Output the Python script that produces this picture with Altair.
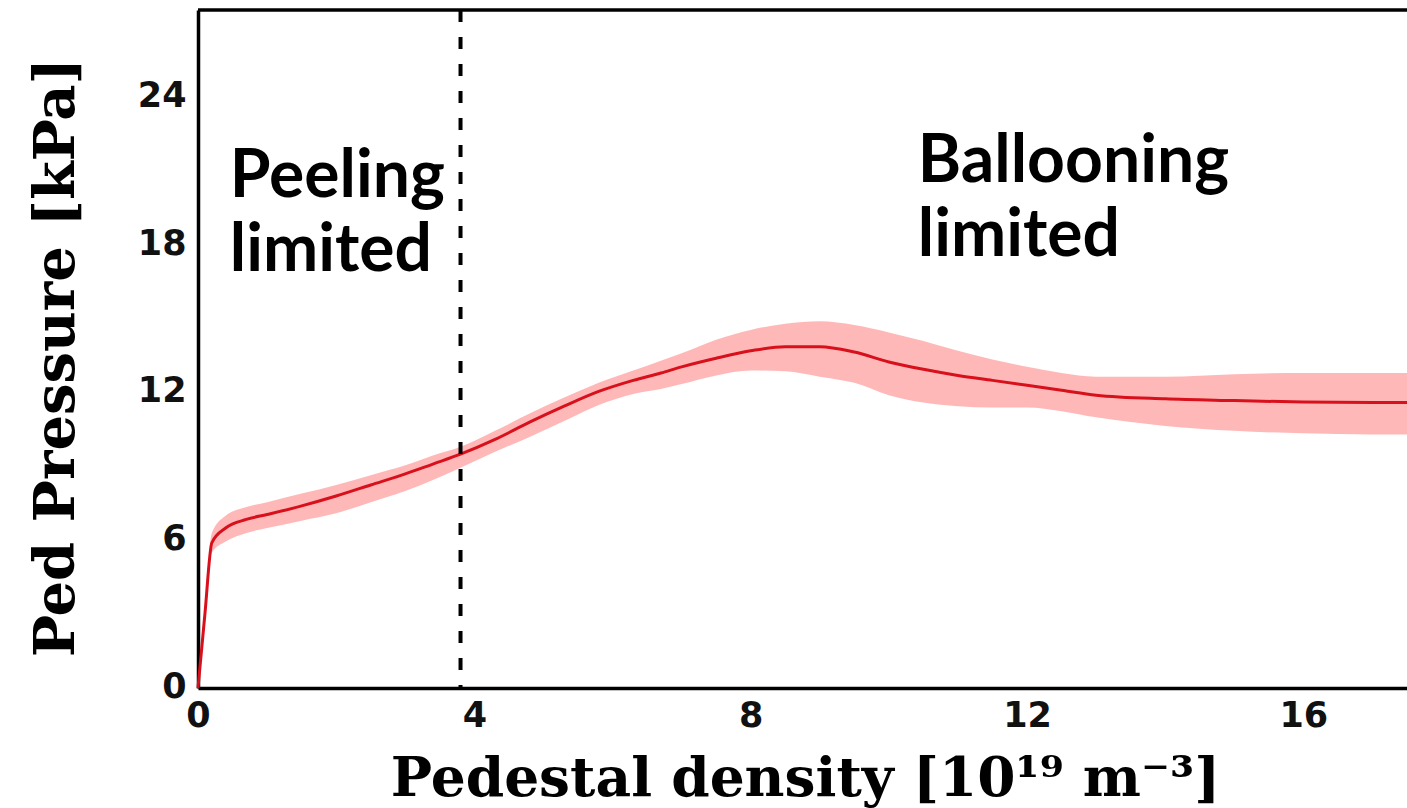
import altair as alt
import pandas as pd

# --- data ---
density = [0.0, 0.1, 0.2, 0.4, 0.7, 1.0, 1.5, 2.0, 2.5, 3.0, 3.4, 3.8, 4.3, 4.8, 5.3, 5.8,
           6.3, 6.7, 7.0, 7.5, 8.0, 8.5, 9.0, 9.5, 10.0, 10.5, 11.0, 11.5, 12.0, 12.5,
           13.0, 14.0, 15.0, 16.0, 17.0, 17.5]
pressure = [0.0, 3.0, 5.9, 6.5, 6.85, 7.05, 7.4, 7.8, 8.25, 8.7, 9.1, 9.5, 10.1, 10.8, 11.45,
            12.05, 12.5, 12.8, 13.05, 13.4, 13.7, 13.87, 13.87, 13.65, 13.25, 12.95, 12.7,
            12.5, 12.3, 12.1, 11.9, 11.75, 11.68, 11.62, 11.6, 11.6]
upper = [0.0, 3.2, 6.3, 7.0, 7.35, 7.55, 7.9, 8.25, 8.65, 9.05, 9.45, 9.8, 10.45, 11.15, 11.8,
         12.4, 12.9, 13.3, 13.6, 14.15, 14.55, 14.8, 14.9, 14.75, 14.45, 14.1, 13.7, 13.35,
         13.05, 12.8, 12.65, 12.65, 12.75, 12.8, 12.8, 12.8]
lower = [0.0, 2.8, 5.5, 5.95, 6.3, 6.5, 6.8, 7.1, 7.55, 8.0, 8.45, 8.95, 9.6, 10.2, 10.85,
         11.5, 11.95, 12.15, 12.35, 12.7, 12.9, 12.87, 12.65, 12.4, 11.9, 11.6, 11.45, 11.4,
         11.4, 11.25, 11.0, 10.65, 10.45, 10.35, 10.3, 10.3]

x_ticks = [0, 4, 8, 12, 16]
y_ticks = [0, 6, 12, 18, 24]
x_max = 17.5
y_max = 27.55
boundary_density = 3.8

label_text = ["Peeling\nlimited", "Ballooning\nlimited"]
label_x = [0.46, 10.42]
label_y = [19.96, 20.57]

df = pd.DataFrame({"x": density, "y": pressure, "lo": lower, "hi": upper})
df_lab = pd.DataFrame({"x": label_x, "y": label_y, "t": label_text})

W, H = 1209, 678

xscale = alt.Scale(domain=[0, x_max], nice=False, zero=False)
yscale = alt.Scale(domain=[0, y_max], nice=False, zero=False)

xaxis = alt.Axis(
    values=x_ticks, format="d", title="Pedestal density [10¹⁹ m⁻³]", grid=False, ticks=False,
    domainColor="black", domainWidth=3.5,
    labelFont="DejaVu Sans", labelFontWeight="bold", labelFontSize=35, labelColor="#111111",
    labelPadding=10, labelFlush=False,
    titleFont="DejaVu Serif", titleFontWeight="bold", titleFontSize=55, titleColor="black",
    titleX=607, titleY=107, titleBaseline="alphabetic", titleAlign="center",
)
yaxis = alt.Axis(
    values=y_ticks, format="d", title="Ped Pressure [kPa]", grid=False, ticks=False,
    domainColor="black", domainWidth=3.5,
    labelFont="DejaVu Sans", labelFontWeight="bold", labelFontSize=35, labelColor="#111111",
    labelPadding=12, labelOffset=-2, labelFlush=False,
    titleFont="DejaVu Serif", titleFontWeight="bold", titleFontSize=56, titleColor="black",
    titleX=-142, titleY=347, titleAngle=270, titleBaseline="middle", titleAlign="center",
)

base = alt.Chart(df)

band = base.mark_area(color="#ffb8b8", opacity=1, interpolate="monotone").encode(
    x=alt.X("x:Q", scale=xscale, axis=xaxis),
    y=alt.Y("lo:Q", scale=yscale, axis=yaxis),
    y2="hi:Q",
)
line = base.mark_line(color="#d8101c", strokeWidth=3, interpolate="monotone").encode(
    x=alt.X("x:Q", scale=xscale),
    y=alt.Y("y:Q", scale=yscale),
)
dash = alt.Chart(pd.DataFrame({"b": [boundary_density]})).mark_rule(
    color="black", strokeWidth=4, strokeDash=[12, 15]
).encode(x=alt.X("b:Q", scale=xscale))

top = alt.Chart(pd.DataFrame({"t": [y_max]})).mark_rule(
    color="black", strokeWidth=3.5
).encode(y=alt.Y("t:Q", scale=yscale))

labels = alt.Chart(df_lab).mark_text(
    font="Lato", fontWeight="bold", fontSize=66, align="left", baseline="alphabetic",
    lineBreak="\n", lineHeight=74, color="black",
).encode(
    x=alt.X("x:Q", scale=xscale),
    y=alt.Y("y:Q", scale=yscale),
    text="t:N",
)

chart = alt.layer(band, line, dash, top, labels).properties(
    width=W, height=H,
    autosize=alt.AutoSizeParams(type="none"),
    padding={"left": 198, "top": 10, "right": 0, "bottom": 120},
).configure_view(stroke=None).configure(background="white")

chart.save("out.html", embed_options={"renderer": "svg", "actions": False})
